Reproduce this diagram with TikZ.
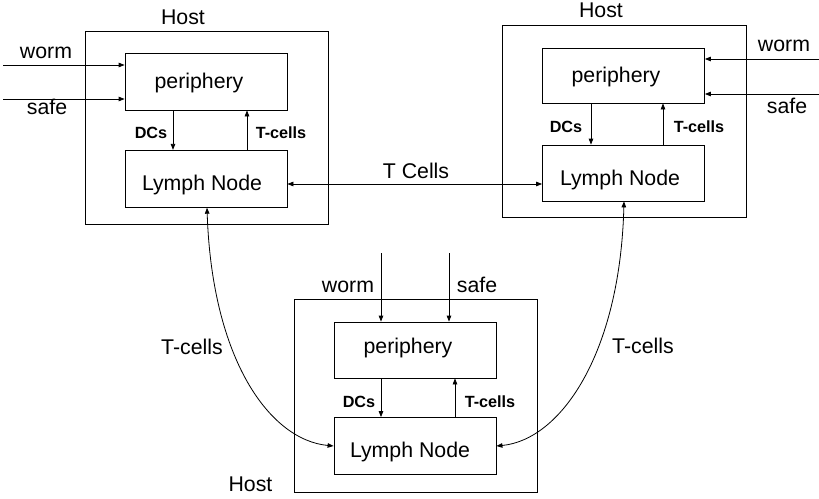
\documentclass[tikz,border=0pt]{standalone}
\usepackage{fontspec}
\setmainfont{Liberation Sans}
\usetikzlibrary{arrows.meta,calc}
\begin{document}
\begin{tikzpicture}[x=1pt,y=-1pt,
  tip/.tip={Triangle[length=6pt,width=4.5pt]},
  hostbox/.style={draw,line width=0.8pt,inner sep=0pt},
  cellbox/.style={draw,line width=0.8pt,inner sep=0pt,minimum width=162pt,minimum height=57pt},
  txt/.style={inner sep=0pt,anchor=base,font=\fontsize{21.3}{25}\selectfont},
  small/.style={inner sep=0pt,anchor=base,font=\fontsize{16.2}{19}\bfseries\selectfont},
  flow/.style={line width=0.8pt,-tip},
  both/.style={line width=0.8pt,tip-tip}]
\useasboundingbox (0,0) rectangle (819,498);

% ---- host (top left)
\node[hostbox,minimum width=243pt,minimum height=193pt] (h1) at (206.5,127.5) {};
\node[cellbox] (p1) at (206,81.5) {};
\node[cellbox] (l1) at (206,178.8) {};
\node[txt] at (183,24) {Host};
\node[txt] at (199,88) {periphery};
\node[txt] at (202,190) {Lymph Node};
\coordinate (w1) at (3,65);
\coordinate (s1) at (3,99);
\draw[flow] (w1) -- (p1.west |- w1);
\draw[flow] (s1) -- (p1.west |- s1);
\node[txt] at (46,58) {worm};
\node[txt] at (47,114) {safe};
\draw[flow] (p1.south -| 173,0) -- (l1.north -| 173,0);
\draw[flow] (l1.north -| 247,0) -- (p1.south -| 247,0);
\node[small] at (151,138) {DCs};
\node[small] at (281,138) {T-cells};

% ---- host (top right)
\node[hostbox,minimum width=244pt,minimum height=192pt] (h2) at (624,121) {};
\node[cellbox,minimum height=55pt] (p2) at (623.5,75.5) {};
\node[cellbox,minimum height=56pt] (l2) at (623.5,173) {};
\node[txt] at (601,17) {Host};
\node[txt] at (616,82) {periphery};
\node[txt] at (620,185) {Lymph Node};
\coordinate (w2) at (819,59);
\coordinate (s2) at (819,94);
\draw[flow] (w2) -- (p2.east |- w2);
\draw[flow] (s2) -- (p2.east |- s2);
\node[txt] at (784,51) {worm};
\node[txt] at (787,113) {safe};
\draw[flow] (p2.south -| 591,0) -- (l2.north -| 591,0);
\draw[flow] (l2.north -| 663,0) -- (p2.south -| 663,0);
\node[small] at (566,132) {DCs};
\node[small] at (699,132) {T-cells};

% ---- host (bottom)
\node[hostbox,minimum width=243pt,minimum height=193pt] (h3) at (415.5,395.5) {};
\node[cellbox,minimum height=56pt] (p3) at (415,350) {};
\node[cellbox] (l3) at (415,446) {};
\node[txt] at (250.5,491) {Host};
\node[txt] at (408,353) {periphery};
\node[txt] at (410,457) {Lymph Node};
\coordinate (w3) at (381,253);
\coordinate (s3) at (449,253);
\draw[flow] (w3) -- (p3.north -| w3);
\draw[flow] (s3) -- (p3.north -| s3);
\node[txt] at (348,292) {worm};
\node[txt] at (477,292) {safe};
\draw[flow] (p3.south -| 381,0) -- (l3.north -| 381,0);
\draw[flow] (l3.north -| 455,0) -- (p3.south -| 455,0);
\node[small] at (359,407) {DCs};
\node[small] at (490,407) {T-cells};

% ---- exchange of T cells between the lymph nodes
\coordinate (tc) at (0,184);
\draw[both] (l1.east |- tc) -- (l2.west |- tc);
\node[txt] at (416,178) {T Cells};

\draw[both] (l1.south -| 207,0) .. controls (212,360) and (270,440) .. (l3.west);
\node[txt] at (192,354) {T-cells};

\draw[both] (l2.south -| 624,0) .. controls (620,355) and (560,440) .. (l3.east);
\node[txt] at (643,353) {T-cells};
\end{tikzpicture}
\end{document}
